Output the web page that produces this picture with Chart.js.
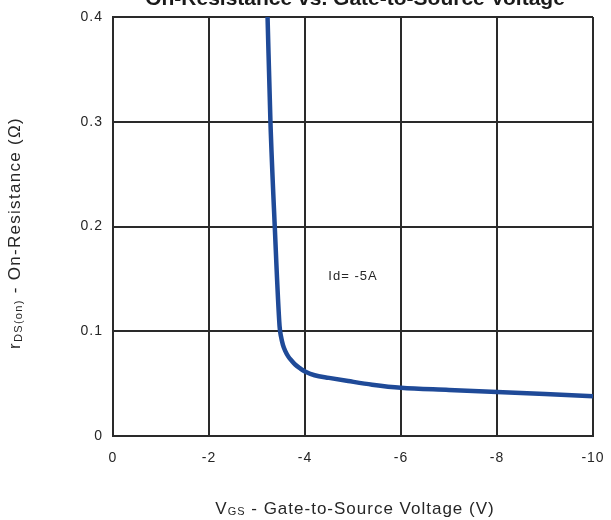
<!DOCTYPE html>
<html>
<head>
<meta charset="utf-8">
<script src="https://cdn.jsdelivr.net/npm/chart.js@4"></script>
<style>
html,body{margin:0;padding:0;background:#fff;}
#wrap{position:relative;width:611px;height:520px;}
</style>
</head>
<body>
<div id="wrap"><canvas id="c" width="611" height="520"></canvas></div>
<script>
// ---- data ----
const vgs = [-3.22, -3.28, -3.37, -3.47, -3.50, -3.54, -3.59, -3.65, -3.72, -3.80, -3.90, -4.0, -4.2, -4.5, -4.9, -5.4, -6.0, -7.0, -8.0, -9.0, -10.0];
const rds = [0.400, 0.300, 0.200, 0.105, 0.095, 0.087, 0.081, 0.076, 0.072, 0.068, 0.0645, 0.0615, 0.058, 0.0555, 0.0525, 0.049, 0.046, 0.044, 0.042, 0.040, 0.038];
const xTickValues = [0, -2, -4, -6, -8, -10];
const yTickValues = [0, 0.1, 0.2, 0.3, 0.4];
const chartTitle = 'On-Resistance vs. Gate-to-Source Voltage';
const annotation = 'Id= -5A';

const points = vgs.map((v, i) => ({x: v, y: rds[i]}));
const FONT = '"Liberation Sans", Arial, sans-serif';
const TXT = '#262626';
const GRID = '#2a2a2a';

const spacingPlugin = {
  id: 'spacing',
  beforeInit(chart){ chart.ctx.letterSpacing = '1px'; },
  beforeLayout(chart){ chart.ctx.letterSpacing = '1px'; },
  beforeDraw(chart){ chart.ctx.letterSpacing = '1px'; }
};

const textPlugin = {
  id: 'texts',
  afterDraw(chart){
    const ctx = chart.ctx;
    ctx.save();
    ctx.fillStyle = '#1a1a1a';
    ctx.letterSpacing = '0px';
    ctx.font = 'bold 21px ' + FONT;
    ctx.textAlign = 'center';
    ctx.textBaseline = 'alphabetic';
    ctx.fillText(chartTitle, 355, 5);

    // annotation
    ctx.fillStyle = TXT;
    ctx.letterSpacing = '1px';
    ctx.font = '13px ' + FONT;
    ctx.textBaseline = 'middle';
    const xs = chart.scales.x, ys = chart.scales.y;
    ctx.fillText(annotation, (xs.getPixelForValue(-4) + xs.getPixelForValue(-6)) / 2, ys.getPixelForValue(0.152));

    // x-axis title: V_GS - Gate-to-Source Voltage (V)
    const xParts = [
      {t: 'V', f: '17px ' + FONT, dy: 0},
      {t: 'GS', f: '11px ' + FONT, dy: 3},
      {t: ' - Gate-to-Source Voltage (V)', f: '17px ' + FONT, dy: 0}
    ];
    drawParts(ctx, xParts, 355, 509, 0, 1);

    // y-axis title: r_DS(on) - On-Resistance (Ω)
    const yParts = [
      {t: 'r', f: '17px ' + FONT, dy: 0},
      {t: 'DS(on)', f: '11px ' + FONT, dy: 4},
      {t: ' - On-Resistance (\u03A9)', f: '17px ' + FONT, dy: 0}
    ];
    drawParts(ctx, yParts, 15, 233, -Math.PI / 2, 1.3);
    ctx.restore();
  }
};

function drawParts(ctx, parts, cx, cy, rot, sp){
  ctx.save();
  ctx.translate(cx, cy);
  ctx.rotate(rot);
  ctx.textAlign = 'left';
  ctx.textBaseline = 'middle';
  ctx.fillStyle = TXT;
  ctx.letterSpacing = sp + 'px';
  let total = 0;
  parts.forEach(p => { ctx.font = p.f; p.w = ctx.measureText(p.t).width; total += p.w; });
  let x = -total / 2;
  parts.forEach(p => { ctx.font = p.f; ctx.fillText(p.t, x, p.dy); x += p.w; });
  ctx.restore();
}

new Chart(document.getElementById('c'), {
  type: 'line',
  data: {
    datasets: [{
      data: points,
      borderColor: '#1f4a98',
      borderWidth: 4.5,
      pointRadius: 0,
      fill: false,
      cubicInterpolationMode: 'monotone',
      clip: 4
    }]
  },
  options: {
    responsive: false,
    animation: false,
    layout: {padding: {top: 17, right: 18, left: 0, bottom: 0}},
    plugins: {legend: {display: false}, title: {display: false}, tooltip: {enabled: false}},
    scales: {
      x: {
        type: 'linear', reverse: true, min: -10, max: 0,
        afterBuildTicks(s){ s.ticks = xTickValues.map(v => ({value: v})); },
        afterFit(s){ s.height = 84; s.paddingLeft = 0; s.paddingRight = 0; },
        grid: {color: GRID, lineWidth: 2, drawTicks: false},
        border: {color: GRID, width: 2},
        ticks: {
          padding: 14, color: TXT, font: {family: FONT, size: 14},
          maxRotation: 0, autoSkip: false,
          callback: v => (v === 0 ? '0' : String(v))
        }
      },
      y: {
        type: 'linear', min: 0, max: 0.4,
        afterBuildTicks(s){ s.ticks = yTickValues.map(v => ({value: v})); },
        afterFit(s){ s.width = 113; s.paddingTop = 0; s.paddingBottom = 0; },
        grid: {color: GRID, lineWidth: 2, drawTicks: false},
        border: {color: GRID, width: 2},
        ticks: {
          padding: 10, color: TXT, font: {family: FONT, size: 14},
          callback: v => (v === 0 ? '0' : v.toFixed(1))
        }
      }
    }
  },
  plugins: [spacingPlugin, textPlugin]
});
</script>
</body>
</html>
